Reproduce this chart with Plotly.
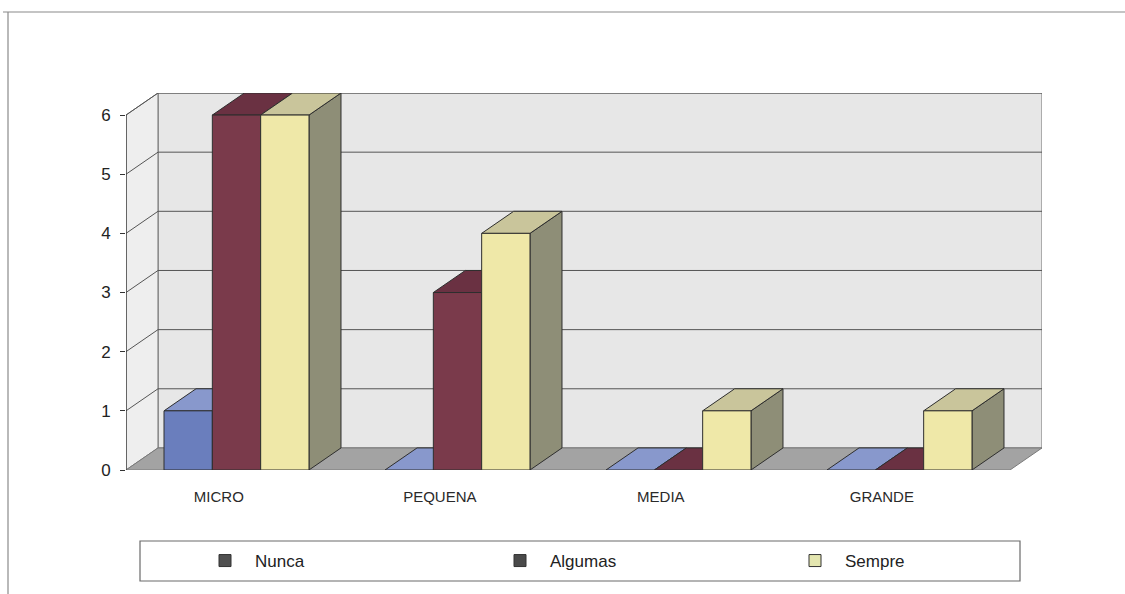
import plotly.graph_objects as go

# Categories and series values
categories = ["MICRO", "PEQUENA", "MEDIA", "GRANDE"]
series_names = ["Nunca", "Algumas", "Sempre"]
nunca = [1, 0, 0, 0]
algumas = [6, 3, 0, 0]
sempre = [6, 4, 1, 1]
y_ticks = [0, 1, 2, 3, 4, 5, 6]

series_values = [nunca, algumas, sempre]

# Face colours per series: front, top, right side
face_colors = [
    ("#6a7ebd", "#8898cc", "#4e5d93"),
    ("#7a3a4b", "#6a3142", "#56283a"),
    ("#efe8a8", "#c9c59b", "#8e8e77"),
]
legend_colors = ["#505050", "#4a4a4a", "#e4e6b0"]

# Plot-area geometry in pixels (used to express the 3D depth in axis units)
W, H = 1125, 594
PL, PR, PT, PB = 126, 1042, 93, 470
CAT_PX = 221.0          # width of one category slot
UNIT_PX = 59.0          # height of one value unit
DX = 32.0 / CAT_PX      # depth offset along x, in category units
DY = 22.0 / UNIT_PX     # depth offset along y, in value units
Y_MAX = max(y_ticks)

GROUP_W = 0.656
BAR_W = GROUP_W / len(series_names)
EDGE = "#2e2e2e"

fig = go.Figure()


def poly(xs, ys, fill, line_color=EDGE, width=1):
    fig.add_trace(go.Scatter(
        x=list(xs) + [xs[0]], y=list(ys) + [ys[0]],
        mode="lines", fill="toself", fillcolor=fill,
        line=dict(color=line_color, width=width),
        hoverinfo="skip", showlegend=False,
    ))


def seg(xs, ys, color="#5a5a5a", width=1):
    fig.add_trace(go.Scatter(
        x=xs, y=ys, mode="lines", line=dict(color=color, width=width),
        hoverinfo="skip", showlegend=False,
    ))


n_cat = len(categories)

# Back wall and left side wall
poly([DX, n_cat + DX, n_cat + DX, DX], [DY, DY, Y_MAX + DY, Y_MAX + DY], "#e7e7e7", "#707070")
poly([0, 0, DX, DX], [0, Y_MAX, Y_MAX + DY, DY], "#eeeeee", "#707070")

# Gridlines on the back wall and along the side wall
for k in y_ticks[1:]:
    seg([DX, n_cat + DX], [k + DY, k + DY], "#555555")
    seg([0, DX], [k, k + DY], "#555555")

# Floor
poly([0, n_cat, n_cat + DX, DX], [0, 0, DY, DY], "#a3a3a3", "#7a7a7a")

# Bars, drawn left to right so each one hides the previous bar's side
for ci in range(n_cat):
    x_start = ci + 0.5 - GROUP_W / 2
    for si, vals in enumerate(series_values):
        v = vals[ci]
        x0 = x_start + si * BAR_W
        x1 = x0 + BAR_W
        front, top, side = face_colors[si]
        # right side face
        if v > 0:
            poly([x1, x1 + DX, x1 + DX, x1], [0, DY, v + DY, v], side)
        # top face
        poly([x0, x1, x1 + DX, x0 + DX], [v, v, v + DY, v + DY], top)
        # front face
        if v > 0:
            poly([x0, x1, x1, x0], [0, 0, v, v], front)

# Legend entries
for name, col in zip(series_names, legend_colors):
    fig.add_trace(go.Scatter(
        x=[None], y=[None], mode="markers", name=name,
        marker=dict(symbol="square", size=12, color=col,
                    line=dict(color="#333333", width=1)),
    ))

# Front value axis line
fig.add_shape(type="line", xref="x", yref="y", x0=0, x1=0, y0=0, y1=Y_MAX,
              line=dict(color="#333333", width=1.2))


def px_to_paper_x(px):
    return (px - PL) / (PR - PL)


def px_to_paper_y(py):
    return (PB - py) / (PB - PT)


# Outer chart frame (left and top edges)
fig.add_shape(type="line", xref="paper", yref="paper",
              x0=px_to_paper_x(8), x1=px_to_paper_x(8),
              y0=px_to_paper_y(12), y1=px_to_paper_y(594),
              line=dict(color="#8a8a8a", width=1.2))
fig.add_shape(type="line", xref="paper", yref="paper",
              x0=px_to_paper_x(3), x1=px_to_paper_x(1125),
              y0=px_to_paper_y(12), y1=px_to_paper_y(12),
              line=dict(color="#8a8a8a", width=1.2))
# Legend frame
fig.add_shape(type="rect", xref="paper", yref="paper",
              x0=px_to_paper_x(140), x1=px_to_paper_x(1020),
              y0=px_to_paper_y(581), y1=px_to_paper_y(541),
              line=dict(color="#6a6a6a", width=1.2), fillcolor="rgba(0,0,0,0)")

fig.update_layout(
    width=W, height=H,
    margin=dict(l=PL, r=W - PR, t=PT, b=H - PB, pad=0),
    paper_bgcolor="white", plot_bgcolor="white",
    font=dict(family="Liberation Sans, Arial, sans-serif", color="#222222"),
    showlegend=True,
    legend=dict(
        orientation="h", xref="container", yref="container",
        x=195 / W, xanchor="left", y=(H - 561) / H, yanchor="middle",
        itemwidth=50,
        entrywidth=230, entrywidthmode="pixels",
        font=dict(size=17, color="#222222"),
        bgcolor="rgba(0,0,0,0)", borderwidth=0,
    ),
    xaxis=dict(
        range=[0, n_cat + DX], fixedrange=True,
        showgrid=False, zeroline=False, showline=False,
        tickvals=[i + 0.5 - 0.08 for i in range(n_cat)], ticktext=categories,
        ticks="", ticklabelstandoff=16,
        tickfont=dict(size=15, color="#2a2a2a"),
    ),
    yaxis=dict(
        range=[0, Y_MAX + DY], fixedrange=True,
        showgrid=False, zeroline=False, showline=False,
        tickvals=y_ticks, ticks="outside", ticklen=5, tickcolor="#333333",
        ticklabelstandoff=6,
        tickfont=dict(size=17, color="#222222"),
    ),
)

fig.write_html("out.html")
